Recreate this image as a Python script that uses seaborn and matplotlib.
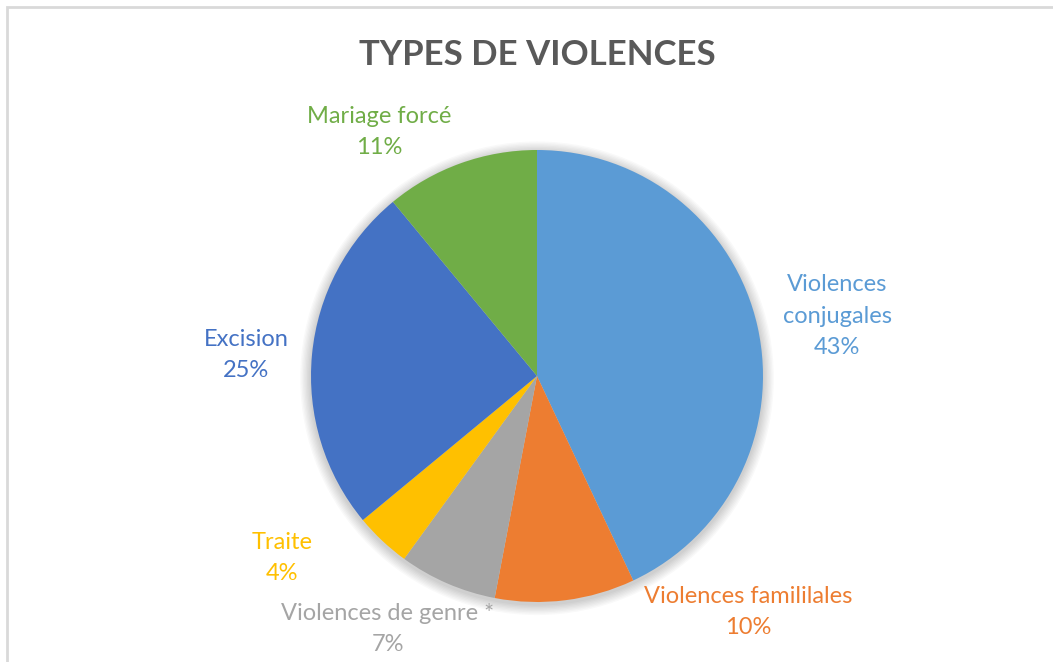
import matplotlib
matplotlib.use("Agg")
import matplotlib.pyplot as plt
from matplotlib.patches import Circle, Rectangle
import seaborn as sns

# Data
categories = ["Violences conjugales", "Violences famililales", "Violences de genre *",
              "Traite", "Excision", "Mariage forcé"]
label_lines = ["Violences\nconjugales", "Violences famililales", "Violences de genre *",
               "Traite", "Excision", "Mariage forcé"]
shares = [43, 10, 7, 4, 25, 11]
colors = ["#5B9BD5", "#ED7D31", "#A5A5A5", "#FFC000", "#4472C4", "#70AD47"]

sns.set_theme(style="white")
plt.rcParams["font.family"] = ["Lato", "DejaVu Sans"]

W, H = 1053, 662
CX, CY, R = 537, 376, 226  # pie centre and radius in pixels

fig = plt.figure(figsize=(W / 100, H / 100), dpi=100)
ax = fig.add_axes([0, 0, 1, 1])

# soft shadow behind the pie
for i in range(8):
    ax.add_patch(Circle((0.0, -0.01), 1.0 + 0.006 * (i + 1), facecolor="black",
                        edgecolor="none", alpha=0.025, zorder=1))

wedges, _ = ax.pie(shares, colors=colors, startangle=90, counterclock=False,
                   radius=1.0, center=(0, 0), wedgeprops=dict(linewidth=0))
for w in wedges:
    w.set_zorder(2)

ax.set_xlim(-CX / R, (W - CX) / R)
ax.set_ylim(-(H - CY) / R, CY / R)
ax.set_aspect("equal")
ax.axis("off")

# frame around the chart area
fig.patches.append(Rectangle((6.5 / W, -0.05), 1.2, 1 - 6.5 / H + 0.05,
                             transform=fig.transFigure, fill=False,
                             edgecolor="#D9D9D9", linewidth=2.0, zorder=0))

# label anchor points (pixel coordinates of the text block centres)
label_pos = [(837, 316), (748, 612), (388, 629), (282, 558), (246, 355), (379, 132)]
for text, val, col, (px, py) in zip(label_lines, shares, colors, label_pos):
    ax.text((px - CX) / R, (CY - py) / R, f"{text}\n{val}%", color=col,
            fontsize=17, ha="center", va="center", linespacing=1.6, zorder=3)

fig.text(537 / W, 1 - 55 / H, "TYPES DE VIOLENCES", ha="center", va="center",
         fontsize=25, fontweight="bold", color="#595959")

fig.savefig("out.png", dpi=100, facecolor="white")
